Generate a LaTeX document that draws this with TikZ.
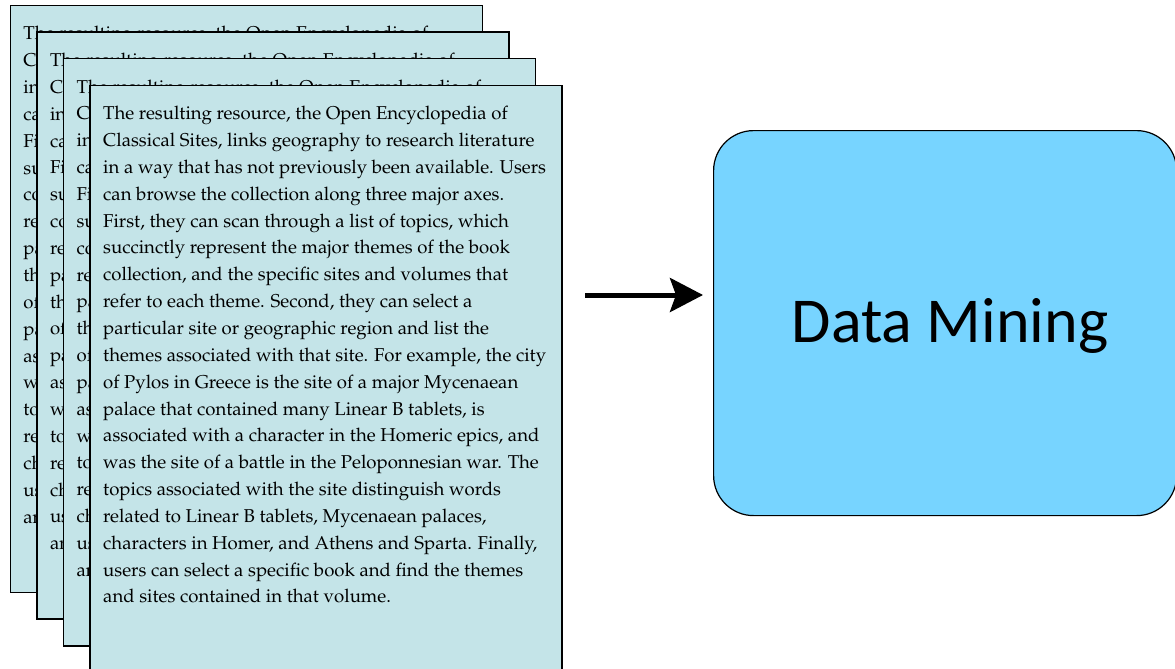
\documentclass[tikz,border=0pt]{standalone}
\usepackage[T1]{fontenc}
\usepackage{fontspec}
\newfontfamily\carlito{Carlito}
\newfontfamily\libserif{Liberation Serif}
\usetikzlibrary{arrows.meta}
\IfFileExists{t1ppl.fd}{\newcommand\palfont{\fontencoding{T1}\fontfamily{ppl}\selectfont}}{\newcommand\palfont{\libserif}}
\definecolor{pagefill}{HTML}{C4E4E8}
\definecolor{boxfill}{HTML}{77D4FF}
\newcommand\pagetext{The resulting resource, the Open Encyclopedia of\\
Classical Sites, links geography to research literature\\
in a way that has not previously been available. Users\\
can browse the collection along three major axes.\\
First, they can scan through a list of topics, which\\
succinctly represent the major themes of the book\\
collection, and the specific sites and volumes that\\
refer to each theme. Second, they can select a\\
particular site or geographic region and list the\\
themes associated with that site. For example, the city\\
of Pylos in Greece is the site of a major Mycenaean\\
palace that contained many Linear B tablets, is\\
associated with a character in the Homeric epics, and\\
was the site of a battle in the Peloponnesian war. The\\
topics associated with the site distinguish words\\
related to Linear B tablets, Mycenaean palaces,\\
characters in Homer, and Athens and Sparta. Finally,\\
users can select a specific book and find the themes\\
and sites contained in that volume.}
\tikzset{
  pagebox/.style={draw=black, fill=pagefill, line width=1.6pt, minimum width=472pt, minimum height=587pt, inner sep=0pt, anchor=north west},
  pagetxt/.style={anchor=north west, align=left, inner sep=0pt, font=\palfont\fontsize{18.6}{26.85}\selectfont},
  dmbox/.style={draw=black, fill=boxfill, line width=1.2pt, rounded corners=40pt, minimum width=463pt, minimum height=385pt, inner sep=0pt, anchor=north west},
  dmlabel/.style={font=\carlito\fontsize{64}{76}\selectfont, inner sep=0pt},
  bigarrow/.style={line width=5pt, -{Stealth[length=33pt, width=34pt, inset=6pt]}, shorten >=10pt}
}
\begin{document}
\begin{tikzpicture}[x=1pt,y=-1pt]
\useasboundingbox (0,0) rectangle (1175,669);
\begin{scope}
\clip (0,0) rectangle (1175,669);
\foreach \i in {0,1,2,3}{
  \node[pagebox] (p\i) at ({9.5+26.6*\i},{4.7+26.6*\i}) {};
  \node[pagetxt] (t\i) at ({23.2+26.6*\i},{26.2+26.6*\i}) {\pagetext};
}
\node[dmbox] (dm) at (713,130) {};
\node[dmlabel] (dml) at (950,326) {Data Mining};
\coordinate (a0) at (585,295);
\draw[bigarrow] (a0) -- (a0 -| dm.west);
\end{scope}
\end{tikzpicture}
\end{document}
